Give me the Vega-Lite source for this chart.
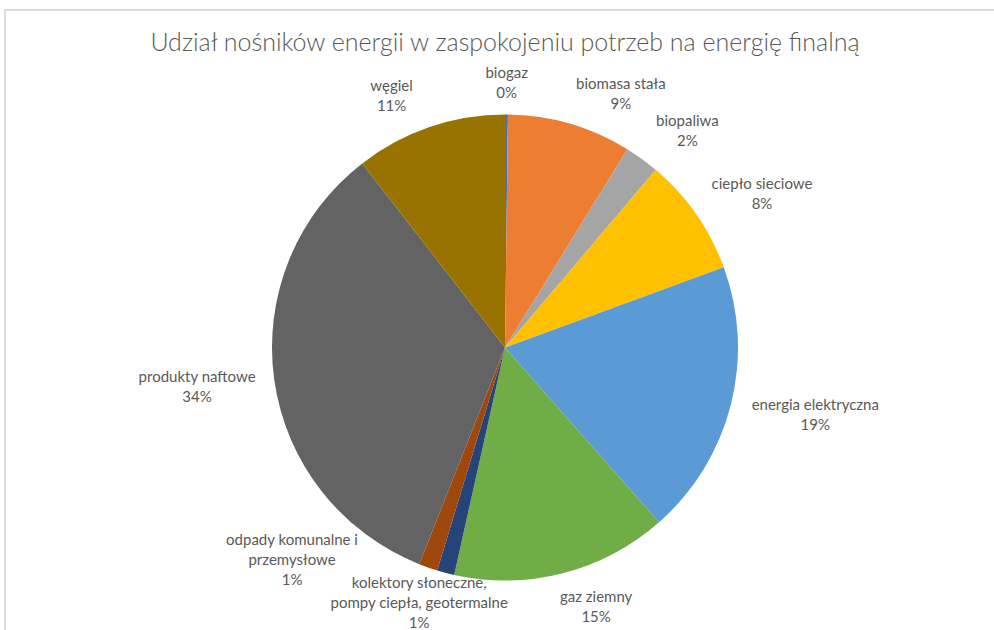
{
  "$schema": "https://vega.github.io/schema/vega-lite/v6.json",
  "autosize": "none",
  "width": 1000,
  "height": 675,
  "padding": {"left": 5, "top": 10, "right": -11, "bottom": -55},
  "background": "white",
  "title": {
    "text": "Udział nośników energii w zaspokojeniu potrzeb na energię finalną",
    "font": "Lato",
    "fontSize": 25,
    "fontWeight": 300,
    "color": "#595959",
    "anchor": "middle",
    "frame": "group",
    "orient": "top",
    "baseline": "alphabetic",
    "offset": 0,
    "dy": 126
  },
  "view": {"stroke": "#d0d0d0", "strokeWidth": 1.5, "strokeDash": [989, 1609, 3000, 0]},
  "config": {"view": {"strokeDash": [989, 1609, 3000, 0]}},
  "data": {
    "values": [
      {"idx": 1, "cat": "biogaz", "value": 0.2, "label": "biogaz\n0%"},
      {"idx": 2, "cat": "biomasa stała", "value": 8.6, "label": "biomasa stała\n9%"},
      {"idx": 3, "cat": "biopaliwa", "value": 2.4, "label": "biopaliwa\n2%"},
      {"idx": 4, "cat": "ciepło sieciowe", "value": 8.2, "label": "ciepło sieciowe\n8%"},
      {"idx": 5, "cat": "energia elektryczna", "value": 19.1, "label": "energia elektryczna\n19%"},
      {"idx": 6, "cat": "gaz ziemny", "value": 15.0, "label": "gaz ziemny\n15%"},
      {"idx": 7, "cat": "kolektory słoneczne, pompy ciepła, geotermalne", "value": 1.2, "label": "kolektory słoneczne,\npompy ciepła, geotermalne\n1%"},
      {"idx": 8, "cat": "odpady komunalne i przemysłowe", "value": 1.3, "label": "odpady komunalne i\nprzemysłowe\n1%"},
      {"idx": 9, "cat": "produkty naftowe", "value": 33.5, "label": "produkty naftowe\n34%"},
      {"idx": 10, "cat": "węgiel", "value": 10.5, "label": "węgiel\n11%"}
    ]
  },
  "encoding": {
    "theta": {"field": "value", "type": "quantitative", "stack": true},
    "order": {"field": "idx", "type": "quantitative"},
    "detail": {"field": "cat", "type": "nominal"}
  },
  "layer": [
    {
      "mark": {"type": "arc", "radius": 233},
      "encoding": {
        "color": {
          "field": "cat",
          "type": "nominal",
          "legend": null,
          "scale": {
            "domain": ["biogaz", "biomasa stała", "biopaliwa", "ciepło sieciowe", "energia elektryczna", "gaz ziemny", "kolektory słoneczne, pompy ciepła, geotermalne", "odpady komunalne i przemysłowe", "produkty naftowe", "węgiel"],
            "range": ["#4472C4", "#ED7D31", "#A5A5A5", "#FFC000", "#5B9BD5", "#70AD47", "#264478", "#9E480E", "#636363", "#997300"]
          }
        }
      }
    },
    {
      "mark": {"type": "text", "radius": 265, "dx": 0, "dy": -10, "font": "Lato", "fontSize": 15, "lineHeight": 20, "lineBreak": "\n", "fill": "#595959", "align": "center", "baseline": "middle"},
      "encoding": {"text": {"condition": {"test": "datum.idx === 1", "field": "label", "type": "nominal"}, "value": ""}}
    },
    {
      "mark": {"type": "text", "radius": 279, "dx": 38, "dy": 4, "font": "Lato", "fontSize": 15, "lineHeight": 20, "lineBreak": "\n", "fill": "#595959", "align": "center", "baseline": "middle"},
      "encoding": {"text": {"condition": {"test": "datum.idx === 2", "field": "label", "type": "nominal"}, "value": ""}}
    },
    {
      "mark": {"type": "text", "radius": 283, "dx": 16, "dy": 2, "font": "Lato", "fontSize": 15, "lineHeight": 20, "lineBreak": "\n", "fill": "#595959", "align": "center", "baseline": "middle"},
      "encoding": {"text": {"condition": {"test": "datum.idx === 3", "field": "label", "type": "nominal"}, "value": ""}}
    },
    {
      "mark": {"type": "text", "radius": 300, "dx": 11, "dy": 8, "font": "Lato", "fontSize": 15, "lineHeight": 20, "lineBreak": "\n", "fill": "#595959", "align": "center", "baseline": "middle"},
      "encoding": {"text": {"condition": {"test": "datum.idx === 4", "field": "label", "type": "nominal"}, "value": ""}}
    },
    {
      "mark": {"type": "text", "radius": 317, "dx": 3, "dy": -20, "font": "Lato", "fontSize": 15, "lineHeight": 20, "lineBreak": "\n", "fill": "#595959", "align": "center", "baseline": "middle"},
      "encoding": {"text": {"condition": {"test": "datum.idx === 5", "field": "label", "type": "nominal"}, "value": ""}}
    },
    {
      "mark": {"type": "text", "radius": 274, "dx": 23, "dy": -16, "font": "Lato", "fontSize": 15, "lineHeight": 20, "lineBreak": "\n", "fill": "#595959", "align": "center", "baseline": "middle"},
      "encoding": {"text": {"condition": {"test": "datum.idx === 6", "field": "label", "type": "nominal"}, "value": ""}}
    },
    {
      "mark": {"type": "text", "radius": 270, "dx": -17, "dy": -26, "font": "Lato", "fontSize": 15, "lineHeight": 20, "lineBreak": "\n", "fill": "#595959", "align": "center", "baseline": "middle"},
      "encoding": {"text": {"condition": {"test": "datum.idx === 7", "field": "label", "type": "nominal"}, "value": ""}}
    },
    {
      "mark": {"type": "text", "radius": 300, "dx": -114, "dy": -91, "font": "Lato", "fontSize": 15, "lineHeight": 20, "lineBreak": "\n", "fill": "#595959", "align": "center", "baseline": "middle"},
      "encoding": {"text": {"condition": {"test": "datum.idx === 8", "field": "label", "type": "nominal"}, "value": ""}}
    },
    {
      "mark": {"type": "text", "radius": 310, "dx": -1, "dy": -14, "font": "Lato", "fontSize": 15, "lineHeight": 20, "lineBreak": "\n", "fill": "#595959", "align": "center", "baseline": "middle"},
      "encoding": {"text": {"condition": {"test": "datum.idx === 9", "field": "label", "type": "nominal"}, "value": ""}}
    },
    {
      "mark": {"type": "text", "radius": 276, "dx": -24, "dy": 0, "font": "Lato", "fontSize": 15, "lineHeight": 20, "lineBreak": "\n", "fill": "#595959", "align": "center", "baseline": "middle"},
      "encoding": {"text": {"condition": {"test": "datum.idx === 10", "field": "label", "type": "nominal"}, "value": ""}}
    }
  ]
}
